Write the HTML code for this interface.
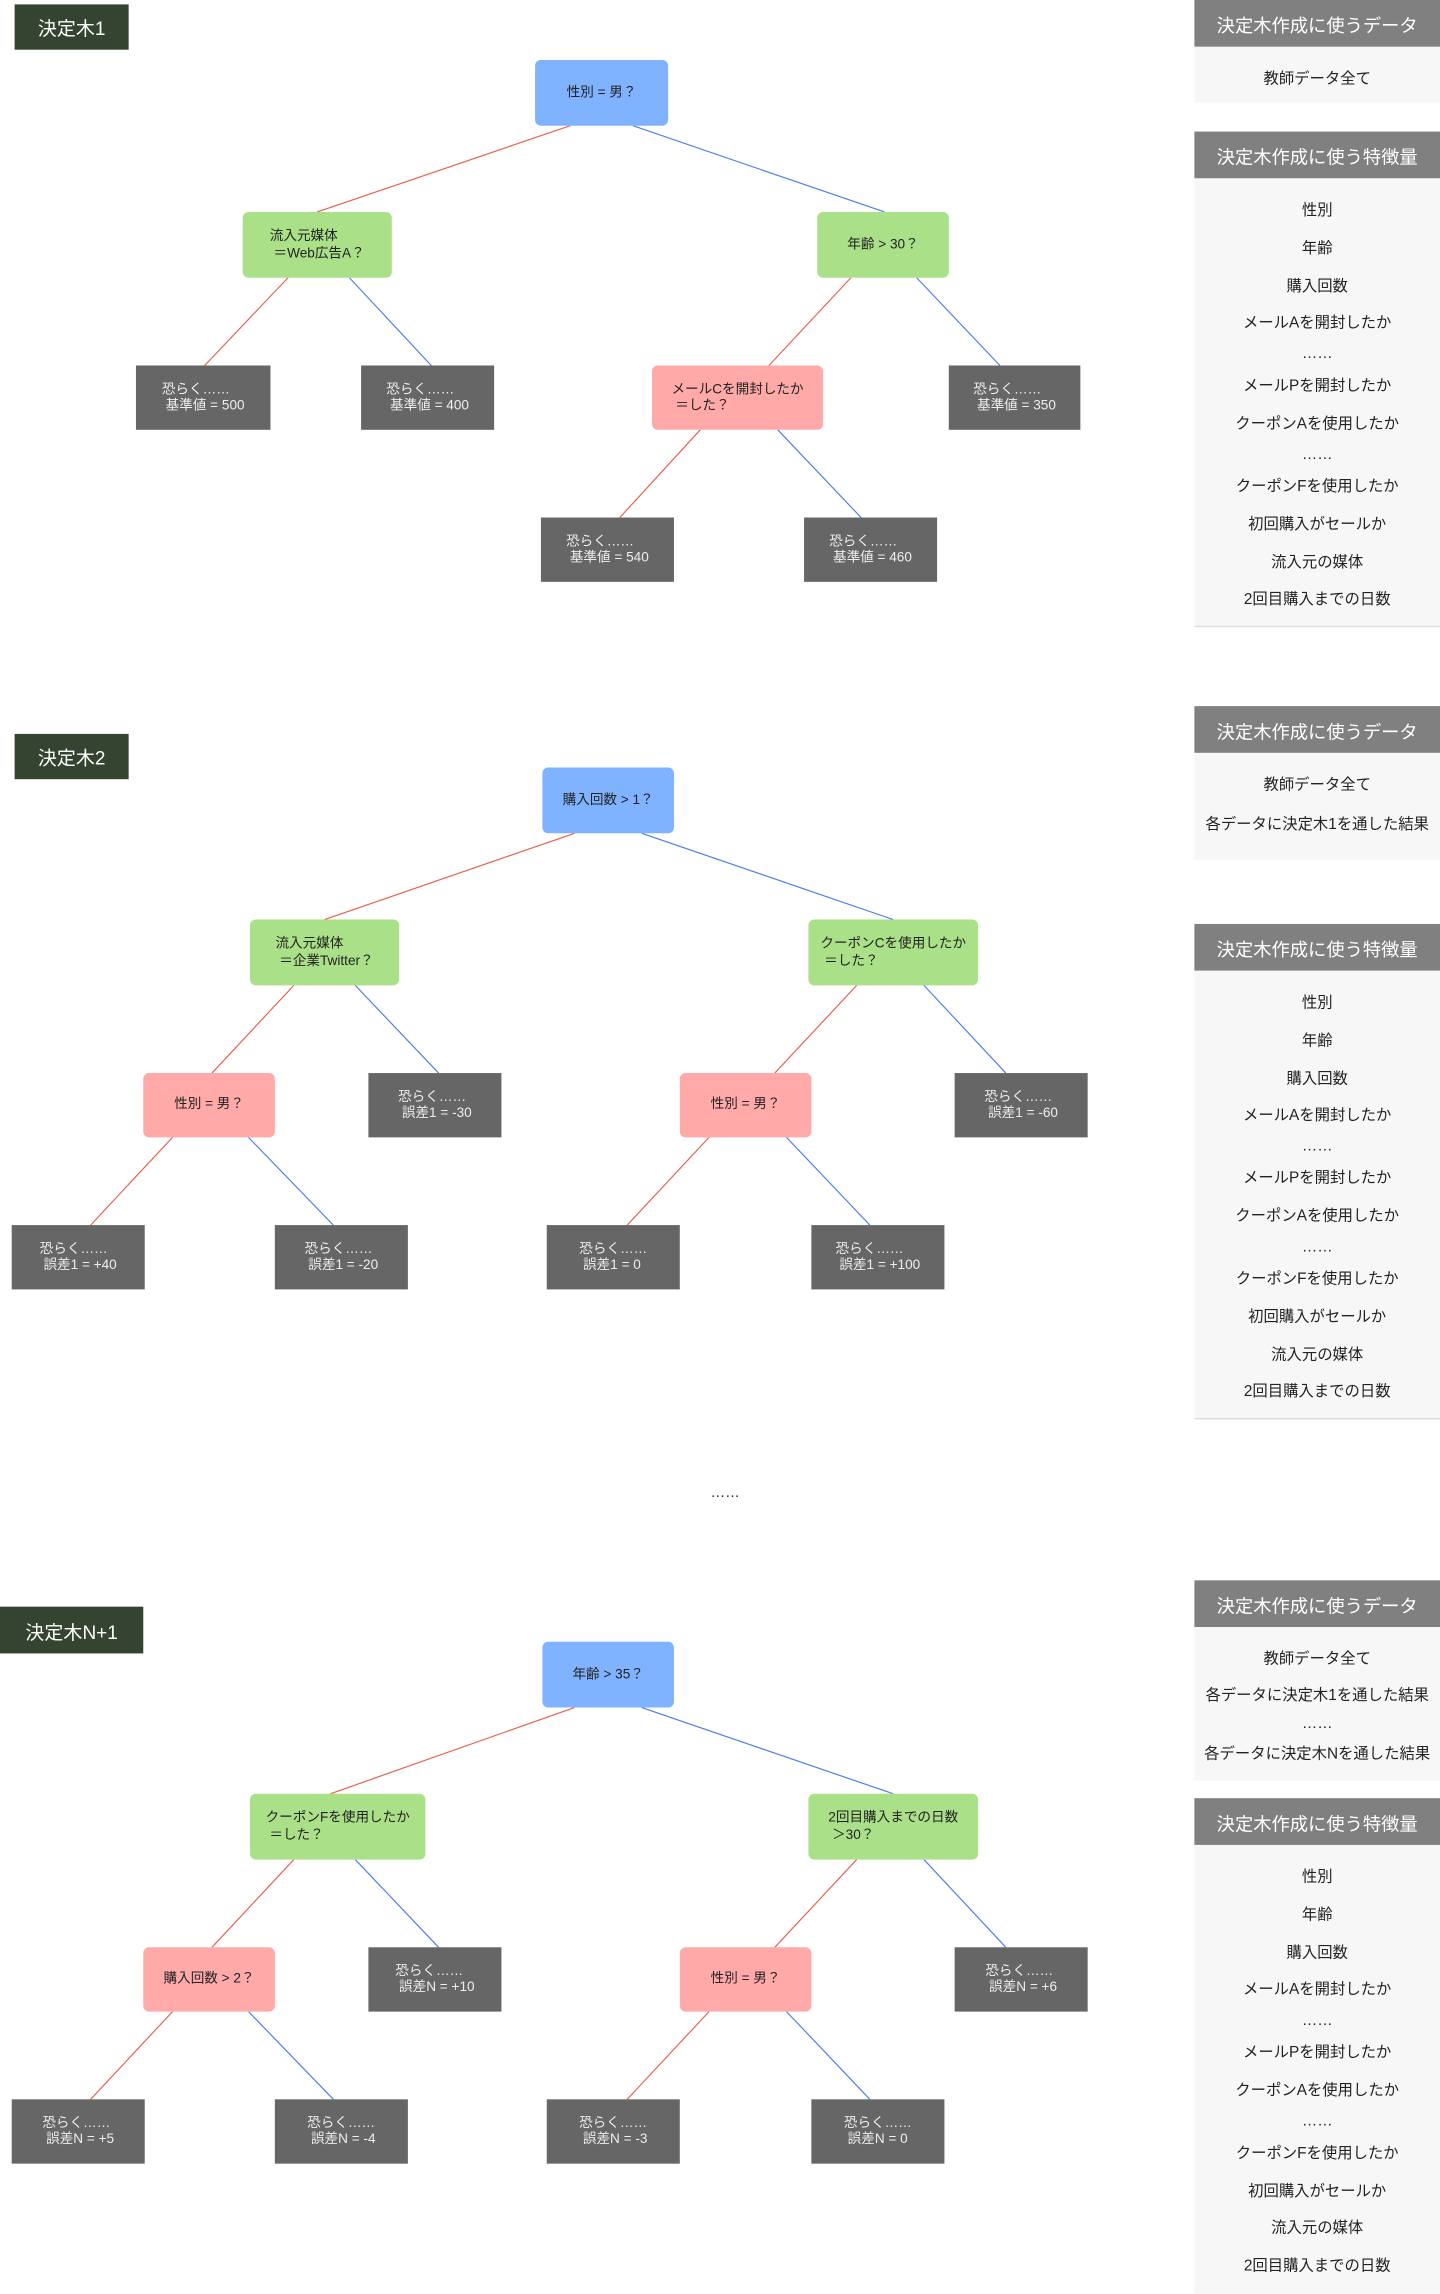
<!DOCTYPE html>
<html><head><meta charset="utf-8"><style>
html,body{margin:0;padding:0;background:#fff;}
body{width:1440px;height:2293px;overflow:hidden;position:relative;}
#w{position:absolute;left:0;top:0;width:985px;height:1569px;transform:scale(1.46193);transform-origin:0 0;font-family:"Liberation Sans","Noto Sans CJK JP",sans-serif;}
.n{position:absolute;box-sizing:border-box;display:flex;align-items:center;justify-content:center;font-size:9.3px;line-height:11.5px;color:#222;}
.n span{display:inline-block;text-align:left;white-space:pre;}
.b{background:#80b3ff;border-radius:4px;}
.g{background:#aae087;border-radius:4px;}
.p{background:#ffa9a9;border-radius:4px;}
.k{background:#666;color:#eee;}
.t{position:absolute;background:#354331;color:#fff;font-size:13px;display:flex;align-items:center;justify-content:center;}
.h{position:absolute;left:817px;width:168px;height:32px;background:#808080;color:#fff;font-size:12.5px;display:flex;align-items:center;justify-content:center;}
.bd{position:absolute;left:817px;width:168px;background:#f7f7f7;}
.i{position:absolute;left:817px;width:168px;text-align:center;font-size:10.5px;line-height:12px;color:#222;margin-top:2px;}
svg{position:absolute;left:0;top:0;}
</style></head><body><div id="w">
<svg width="985" height="1569" stroke-width="0.8">
<g>
<line x1="390" y1="86" x2="217" y2="145" stroke="#e8604c"/><line x1="433" y1="86" x2="605" y2="145" stroke="#4a7df0"/>
<line x1="197" y1="190" x2="140" y2="250" stroke="#e8604c"/><line x1="239" y1="190" x2="295" y2="250" stroke="#4a7df0"/>
<line x1="582" y1="190" x2="526" y2="250" stroke="#e8604c"/><line x1="627" y1="190" x2="684" y2="250" stroke="#4a7df0"/>
<line x1="479" y1="294" x2="424" y2="354" stroke="#e8604c"/><line x1="532" y1="294" x2="589" y2="354" stroke="#4a7df0"/>
</g>
<g id="t2">
<line x1="393" y1="570" x2="222" y2="629" stroke="#e8604c"/><line x1="439" y1="570" x2="611" y2="629" stroke="#4a7df0"/>
<line x1="201" y1="674" x2="145" y2="734" stroke="#e8604c"/><line x1="243" y1="674" x2="300" y2="734" stroke="#4a7df0"/>
<line x1="586" y1="674" x2="530" y2="734" stroke="#e8604c"/><line x1="632" y1="674" x2="688" y2="734" stroke="#4a7df0"/>
<line x1="118" y1="778" x2="62" y2="838" stroke="#e8604c"/><line x1="170" y1="778" x2="228" y2="838" stroke="#4a7df0"/>
<line x1="485" y1="778" x2="429" y2="838" stroke="#e8604c"/><line x1="538" y1="778" x2="595" y2="838" stroke="#4a7df0"/>
</g>
<g transform="translate(0,598)">
<line x1="393" y1="570" x2="226" y2="629" stroke="#e8604c"/><line x1="439" y1="570" x2="611" y2="629" stroke="#4a7df0"/>
<line x1="201" y1="674" x2="145" y2="734" stroke="#e8604c"/><line x1="243" y1="674" x2="300" y2="734" stroke="#4a7df0"/>
<line x1="586" y1="674" x2="530" y2="734" stroke="#e8604c"/><line x1="632" y1="674" x2="688" y2="734" stroke="#4a7df0"/>
<line x1="118" y1="778" x2="62" y2="838" stroke="#e8604c"/><line x1="170" y1="778" x2="228" y2="838" stroke="#4a7df0"/>
<line x1="485" y1="778" x2="429" y2="838" stroke="#e8604c"/><line x1="538" y1="778" x2="595" y2="838" stroke="#4a7df0"/>
</g>
</svg>

<div class="t" style="left:10px;top:3px;width:78px;height:31px">決定木1</div>
<div class="n b" style="left:366px;top:41px;width:91px;height:45px"><span>性別 = 男？</span></div>
<div class="n g" style="left:166px;top:145px;width:102px;height:45px"><span>流入元媒体
 ＝Web広告A？</span></div>
<div class="n g" style="left:559px;top:145px;width:90px;height:45px"><span>年齢 &gt; 30？</span></div>
<div class="n k" style="left:93px;top:250px;width:92px;height:44px"><span>恐らく……
 基準値 = 500</span></div>
<div class="n k" style="left:247px;top:250px;width:91px;height:44px"><span>恐らく……
 基準値 = 400</span></div>
<div class="n p" style="left:446px;top:250px;width:117px;height:44px"><span>メールCを開封したか
 ＝した？</span></div>
<div class="n k" style="left:649px;top:250px;width:90px;height:44px"><span>恐らく……
 基準値 = 350</span></div>
<div class="n k" style="left:370px;top:354px;width:91px;height:44px"><span>恐らく……
 基準値 = 540</span></div>
<div class="n k" style="left:550px;top:354px;width:91px;height:44px"><span>恐らく……
 基準値 = 460</span></div>

<div class="t" style="left:10px;top:502px;width:78px;height:31px">決定木2</div>
<div class="n b" style="left:371px;top:525px;width:90px;height:45px"><span>購入回数 &gt; 1？</span></div>
<div class="n g" style="left:171px;top:629px;width:102px;height:45px"><span>流入元媒体
 ＝企業Twitter？</span></div>
<div class="n g" style="left:553px;top:629px;width:116px;height:45px"><span>クーポンCを使用したか
 ＝した？</span></div>
<div class="n p" style="left:98px;top:734px;width:90px;height:44px"><span>性別 = 男？</span></div>
<div class="n k" style="left:252px;top:734px;width:91px;height:44px"><span>恐らく……
 誤差1 = -30</span></div>
<div class="n p" style="left:465px;top:734px;width:90px;height:44px"><span>性別 = 男？</span></div>
<div class="n k" style="left:653px;top:734px;width:91px;height:44px"><span>恐らく……
 誤差1 = -60</span></div>
<div class="n k" style="left:8px;top:838px;width:91px;height:44px"><span>恐らく……
 誤差1 = +40</span></div>
<div class="n k" style="left:188px;top:838px;width:91px;height:44px"><span>恐らく……
 誤差1 = -20</span></div>
<div class="n k" style="left:374px;top:838px;width:91px;height:44px"><span>恐らく……
 誤差1 = 0</span></div>
<div class="n k" style="left:555px;top:838px;width:91px;height:44px"><span>恐らく……
 誤差1 = +100</span></div>

<div style="position:absolute;left:480px;top:1016px;width:32px;text-align:center;font-size:10px;color:#222">……</div>

<div class="t" style="left:0px;top:1099px;width:98px;height:32px">決定木N+1</div>
<div class="n b" style="left:371px;top:1123px;width:90px;height:45px"><span>年齢 &gt; 35？</span></div>
<div class="n g" style="left:171px;top:1227px;width:120px;height:45px"><span>クーポンFを使用したか
 ＝した？</span></div>
<div class="n g" style="left:553px;top:1227px;width:116px;height:45px"><span>2回目購入までの日数
 ＞30？</span></div>
<div class="n p" style="left:98px;top:1332px;width:90px;height:44px"><span>購入回数 &gt; 2？</span></div>
<div class="n k" style="left:252px;top:1332px;width:91px;height:44px"><span>恐らく……
 誤差N = +10</span></div>
<div class="n p" style="left:465px;top:1332px;width:90px;height:44px"><span>性別 = 男？</span></div>
<div class="n k" style="left:653px;top:1332px;width:91px;height:44px"><span>恐らく……
 誤差N = +6</span></div>
<div class="n k" style="left:8px;top:1436px;width:91px;height:44px"><span>恐らく……
 誤差N = +5</span></div>
<div class="n k" style="left:188px;top:1436px;width:91px;height:44px"><span>恐らく……
 誤差N = -4</span></div>
<div class="n k" style="left:374px;top:1436px;width:91px;height:44px"><span>恐らく……
 誤差N = -3</span></div>
<div class="n k" style="left:555px;top:1436px;width:91px;height:44px"><span>恐らく……
 誤差N = 0</span></div>

<div class="h" style="top:0">決定木作成に使うデータ</div>
<div class="bd" style="top:32px;height:38px"></div>
<div class="i" style="top:46px">教師データ全て</div>
<div class="h" style="top:90px">決定木作成に使う特徴量</div>
<div class="bd" style="top:122px;height:306px;border-bottom:1px solid #ddd"></div>
<div class="i" style="top:136px">性別</div><div class="i" style="top:162px">年齢</div><div class="i" style="top:188px">購入回数</div><div class="i" style="top:213px">メールAを開封したか</div><div class="i" style="top:234px">……</div><div class="i" style="top:256px">メールPを開封したか</div><div class="i" style="top:282px">クーポンAを使用したか</div><div class="i" style="top:303px">……</div><div class="i" style="top:325px">クーポンFを使用したか</div><div class="i" style="top:351px">初回購入がセールか</div><div class="i" style="top:377px">流入元の媒体</div><div class="i" style="top:402px">2回目購入までの日数</div>

<div class="h" style="top:483px">決定木作成に使うデータ</div>
<div class="bd" style="top:515px;height:73px"></div>
<div class="i" style="top:529px">教師データ全て</div>
<div class="i" style="top:556px">各データに決定木1を通した結果</div>
<div class="h" style="top:632px">決定木作成に使う特徴量</div>
<div class="bd" style="top:664px;height:306px;border-bottom:1px solid #ddd"></div>
<div class="i" style="top:678px">性別</div><div class="i" style="top:704px">年齢</div><div class="i" style="top:730px">購入回数</div><div class="i" style="top:755px">メールAを開封したか</div><div class="i" style="top:776px">……</div><div class="i" style="top:798px">メールPを開封したか</div><div class="i" style="top:824px">クーポンAを使用したか</div><div class="i" style="top:845px">……</div><div class="i" style="top:867px">クーポンFを使用したか</div><div class="i" style="top:893px">初回購入がセールか</div><div class="i" style="top:919px">流入元の媒体</div><div class="i" style="top:944px">2回目購入までの日数</div>

<div class="h" style="top:1081px">決定木作成に使うデータ</div>
<div class="bd" style="top:1113px;height:105px"></div>
<div class="i" style="top:1127px">教師データ全て</div>
<div class="i" style="top:1152px">各データに決定木1を通した結果</div>
<div class="i" style="top:1171px">……</div>
<div class="i" style="top:1192px">各データに決定木Nを通した結果</div>
<div class="h" style="top:1230px">決定木作成に使う特徴量</div>
<div class="bd" style="top:1262px;height:307px"></div>
<div class="i" style="top:1276px">性別</div><div class="i" style="top:1302px">年齢</div><div class="i" style="top:1328px">購入回数</div><div class="i" style="top:1353px">メールAを開封したか</div><div class="i" style="top:1374px">……</div><div class="i" style="top:1396px">メールPを開封したか</div><div class="i" style="top:1422px">クーポンAを使用したか</div><div class="i" style="top:1443px">……</div><div class="i" style="top:1465px">クーポンFを使用したか</div><div class="i" style="top:1491px">初回購入がセールか</div><div class="i" style="top:1516px">流入元の媒体</div><div class="i" style="top:1542px">2回目購入までの日数</div>
</div></body></html>
